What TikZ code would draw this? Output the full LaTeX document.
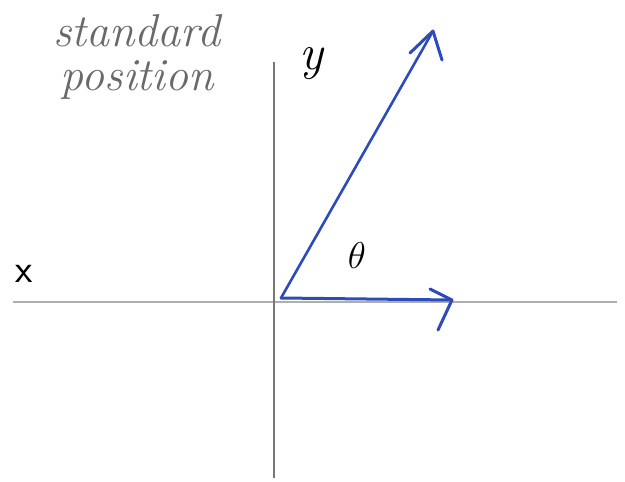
\documentclass[tikz,border=0pt]{standalone}
\usepackage{tikz}
\usepackage{graphicx}
\definecolor{pen}{RGB}{45,75,185}
\definecolor{axisgray}{RGB}{120,120,120}
\definecolor{pencil}{RGB}{105,105,105}
\tikzset{
  axisline/.style={draw=axisgray, line width=1.3pt},
  vecline/.style={draw=pen, line width=3pt, line cap=round, line join=round},
  label/.style={inner sep=0pt, font=\fontsize{40}{40}\selectfont},
}
\begin{document}
\begin{tikzpicture}[x=1pt,y=-1pt]
\useasboundingbox (0,0) rectangle (625,482);
% axes
\coordinate (xl) at (13,302);
\coordinate (xr) at (617,302);
\coordinate (yt) at (274,62);
\coordinate (yb) at (274,478);
\draw[axisline, draw=axisgray!60] (xl) -- (xr);
\draw[axisline] (yt) -- (yb);
% vectors
\coordinate (O) at (281,298);
\coordinate (A) at (433,31);
\coordinate (B) at (452,300);
\draw[vecline, line width=2.6pt] (O) -- (A);
\draw[vecline] (O) -- (B);
\draw[vecline] (410,53) -- (A) -- (442,60);
\draw[vecline] (430,289) -- (B) -- (438,330);
% labels
\node[label] (x) at (24,274) {\sffamily x};
\node[label, font=\fontsize{50}{50}\selectfont] (y) at (311,64) {\itshape y};
\node[label] (t) at (357,256) {\scalebox{1.5}{$\boldmath\theta$}};
\node[label, text=pencil, align=left, font=\fontsize{46}{44}\selectfont\itshape] (sp) at (137,57) {standard\\ \,position};
\end{tikzpicture}
\end{document}
